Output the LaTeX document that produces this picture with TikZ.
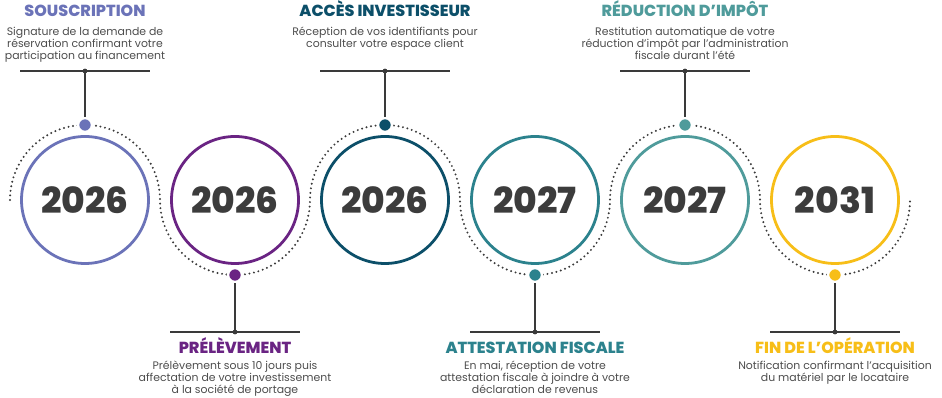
\documentclass[tikz,border=0pt]{standalone}
\usepackage{fontspec}
\setmainfont{Poppins}
\newfontfamily\heavy{Poppins ExtraBold}
\definecolor{cA}{HTML}{6B73B8}
\definecolor{cB}{HTML}{6A2483}
\definecolor{cC}{HTML}{0C4F69}
\definecolor{cD}{HTML}{2C828D}
\definecolor{cE}{HTML}{4F9B9B}
\definecolor{cF}{HTML}{F7BE18}
\definecolor{linegray}{HTML}{3A3A3A}
\definecolor{yeargray}{HTML}{3C3C3C}
\definecolor{descgray}{HTML}{4D4D4D}
\newcommand{\dl}[1]{\begin{tabular}[t]{@{}c@{}}#1\end{tabular}}
\begin{document}
\begin{tikzpicture}[x=1pt,y=1pt,
  yearring/.style={circle, draw=#1, line width=2.8pt, minimum size=127pt, inner sep=0pt, font=\fontsize{36}{36}\selectfont\heavy, text=yeargray},
  marker/.style={circle, fill=#1, draw=white, line width=2.5pt, minimum size=14pt, inner sep=0pt},
  bar/.style={draw=linegray, line width=2.6pt},
  stem/.style={draw=linegray, line width=2.6pt},
  title/.style={anchor=base, text=#1, font=\fontsize{16}{16}\selectfont\heavy, inner sep=0pt},
  desc/.style={anchor=base, text=descgray, font=\fontsize{10.9}{11.5}\selectfont, inner sep=0pt},
  wave/.style={draw=linegray, line width=2.2pt, line cap=round, dash pattern=on 0pt off 4.6pt}
]
\useasboundingbox (0,0) rectangle (942,398);

% dotted wave
\draw[wave] (10,198) arc[start angle=180,end angle=0,radius=75]
  arc[start angle=180,end angle=360,radius=75]
  arc[start angle=180,end angle=0,radius=75]
  arc[start angle=180,end angle=360,radius=75]
  arc[start angle=180,end angle=0,radius=75]
  arc[start angle=180,end angle=360,radius=75];

% year rings
\node[yearring=cA] (y1) at (85,198) {2026};
\node[yearring=cB] (y2) at (235,198) {2026};
\node[yearring=cC] (y3) at (385,198) {2026};
\node[yearring=cD] (y4) at (535,198) {2027};
\node[yearring=cE] (y5) at (685,198) {2027};
\node[yearring=cF] (y6) at (835,198) {2031};

% bars and junctions
\coordinate (j1) at (85,327);
\coordinate (j2) at (235,66);
\coordinate (j3) at (385,327);
\coordinate (j4) at (535,66);
\coordinate (j5) at (685,327);
\coordinate (j6) at (835,66);
\foreach \j in {j1,j2,j3,j4,j5,j6}{
  \draw[bar] ([xshift=-65pt]\j) coordinate (\j l) -- ([xshift=65pt]\j) coordinate (\j r);
  \fill[linegray] (\j) circle (2.4pt);
}

% markers
\node[marker=cA] (m1) at (85,273) {};
\node[marker=cB] (m2) at (235,123) {};
\node[marker=cC] (m3) at (385,273) {};
\node[marker=cD] (m4) at (535,123) {};
\node[marker=cE] (m5) at (685,273) {};
\node[marker=cF] (m6) at (835,123) {};

% stems
\draw[stem] (m1.north) -- (j1);
\draw[stem] (m2.south) -- (j2);
\draw[stem] (m3.north) -- (j3);
\draw[stem] (m4.south) -- (j4);
\draw[stem] (m5.north) -- (j5);
\draw[stem] (m6.south) -- (j6);

% titles
\node[title=cA] (t1) at (85,381) {SOUSCRIPTION};
\node[title=cB] (t2) at (235,44) {PRÉLÈVEMENT};
\node[title=cC] (t3) at (385,381) {ACCÈS INVESTISSEUR};
\node[title=cD] (t4) at (535,44) {ATTESTATION FISCALE};
\node[title=cE] (t5) at (685,381) {RÉDUCTION D’IMPÔT};
\node[title=cF] (t6) at (835,44) {FIN DE L’OPÉRATION};

% descriptions
\node[desc] (d1) at (85,362) {\dl{Signature de la demande de\\réservation confirmant votre\\participation au financement}};
\node[desc] (d2) at (235,28) {\dl{Prélèvement sous 10 jours puis\\affectation de votre investissement\\à la société de portage}};
\node[desc] (d3) at (385,362) {\dl{Réception de vos identifiants pour\\consulter votre espace client}};
\node[desc] (d4) at (535,28) {\dl{En mai, réception de votre\\attestation fiscale à joindre à votre\\déclaration de revenus}};
\node[desc] (d5) at (685,362) {\dl{Restitution automatique de votre\\réduction d’impôt par l’administration\\fiscale durant l’été}};
\node[desc] (d6) at (835,28) {\dl{Notification confirmant l’acquisition\\du matériel par le locataire}};
\end{tikzpicture}
\end{document}
